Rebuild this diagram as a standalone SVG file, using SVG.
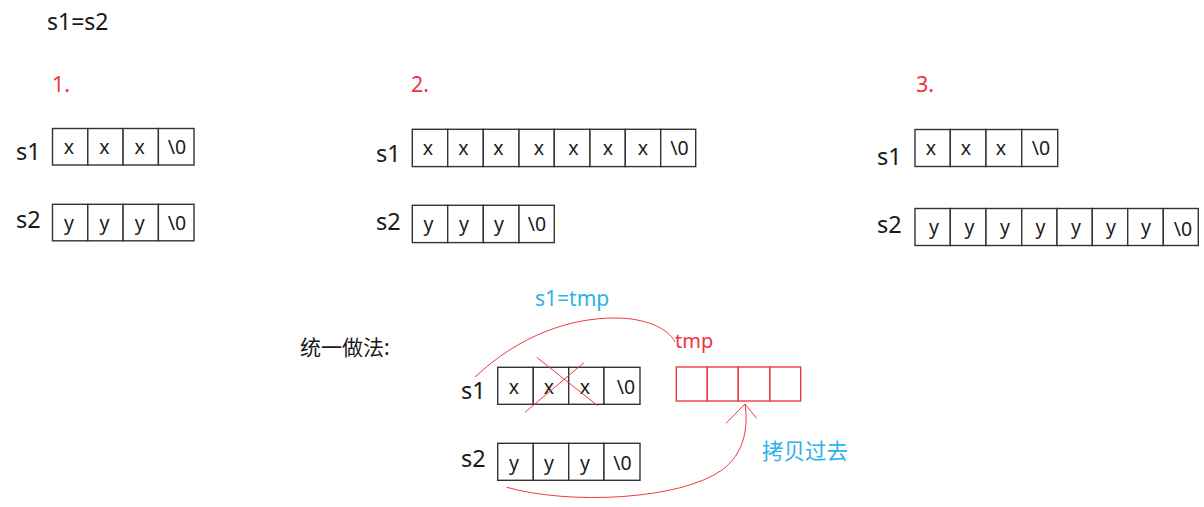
<svg xmlns="http://www.w3.org/2000/svg" width="1204" height="507" viewBox="0 0 1204 507">
<style>
.t{font-family:"Noto Sans","Noto Sans CJK SC",sans-serif;fill:#1a1a1a}
.lbl{font-size:23.5px}
.c{font-size:19.5px;text-anchor:middle}
.red{fill:#f0343f}
.blue{fill:#2db2ea}
.box{fill:#fff;stroke:#333;stroke-width:1.4}
.rbox{fill:none;stroke:#ee3a44;stroke-width:1.4}
.rl{fill:none;stroke:#ee3a44;stroke-width:1}
</style>
<rect width="1204" height="507" fill="#fff"/>
<text class="t" x="47" y="30" font-size="23">s1=s2</text>

<g id="panel1">
<text class="t red" x="52" y="92" font-size="21.5">1.</text>
<g id="p1s1">
<text class="t lbl" x="16" y="160">s1</text>
<rect class="box" x="52.5" y="128.5" width="35.3" height="36.5"/>
<rect class="box" x="87.8" y="128.5" width="35.3" height="36.5"/>
<rect class="box" x="123.1" y="128.5" width="35.3" height="36.5"/>
<rect class="box" x="158.4" y="128.5" width="35.6" height="36.5"/>
<text class="t c" x="69" y="154">x</text><text class="t c" x="104.4" y="154">x</text><text class="t c" x="139.7" y="154">x</text><text class="t c" x="177" y="154">\0</text>
</g>
<g id="p1s2">
<text class="t lbl" x="16" y="228">s2</text>
<rect class="box" x="52.5" y="204.3" width="35.3" height="36.5"/>
<rect class="box" x="87.8" y="204.3" width="35.3" height="36.5"/>
<rect class="box" x="123.1" y="204.3" width="35.3" height="36.5"/>
<rect class="box" x="158.4" y="204.3" width="35.6" height="36.5"/>
<text class="t c" x="69" y="230">y</text><text class="t c" x="104.4" y="230">y</text><text class="t c" x="139.7" y="230">y</text><text class="t c" x="177" y="230">\0</text>
</g>
</g>

<g id="panel2">
<text class="t red" x="411" y="92" font-size="21.5">2.</text>
<g id="p2s1">
<text class="t lbl" x="376" y="162">s1</text>
<rect class="box" x="412.3" y="129.3" width="35.4" height="37.3"/>
<rect class="box" x="447.7" y="129.3" width="35.6" height="37.3"/>
<rect class="box" x="483.3" y="129.3" width="35.7" height="37.3"/>
<rect class="box" x="519" y="129.3" width="35.3" height="37.3"/>
<rect class="box" x="554.3" y="129.3" width="35.7" height="37.3"/>
<rect class="box" x="590" y="129.3" width="35.3" height="37.3"/>
<rect class="box" x="625.3" y="129.3" width="35.4" height="37.3"/>
<rect class="box" x="660.7" y="129.3" width="35" height="37.3"/>
<text class="t c" x="428" y="155">x</text><text class="t c" x="463.5" y="155">x</text><text class="t c" x="498.5" y="155">x</text><text class="t c" x="539" y="155">x</text><text class="t c" x="573.5" y="155">x</text><text class="t c" x="608" y="155">x</text><text class="t c" x="643" y="155">x</text><text class="t c" x="679.5" y="155">\0</text>
</g>
<g id="p2s2">
<text class="t lbl" x="376" y="230">s2</text>
<rect class="box" x="412.3" y="205.3" width="35.4" height="37.3"/>
<rect class="box" x="447.7" y="205.3" width="35.6" height="37.3"/>
<rect class="box" x="483.3" y="205.3" width="35.7" height="37.3"/>
<rect class="box" x="519" y="205.3" width="35.3" height="37.3"/>
<text class="t c" x="428.5" y="231">y</text><text class="t c" x="464" y="231">y</text><text class="t c" x="499" y="231">y</text><text class="t c" x="537" y="231">\0</text>
</g>
</g>

<g id="panel3">
<text class="t red" x="916" y="92" font-size="21.5">3.</text>
<g id="p3s1">
<text class="t lbl" x="877" y="165">s1</text>
<rect class="box" x="915" y="129.5" width="35.3" height="37"/>
<rect class="box" x="950.3" y="129.5" width="35.7" height="37"/>
<rect class="box" x="986" y="129.5" width="35.7" height="37"/>
<rect class="box" x="1021.7" y="129.5" width="36" height="37"/>
<text class="t c" x="931" y="155">x</text><text class="t c" x="966" y="155">x</text><text class="t c" x="1001" y="155">x</text><text class="t c" x="1041" y="155">\0</text>
</g>
<g id="p3s2">
<text class="t lbl" x="877" y="233">s2</text>
<rect class="box" x="915" y="208.5" width="35.3" height="37"/>
<rect class="box" x="950.3" y="208.5" width="35.7" height="37"/>
<rect class="box" x="986" y="208.5" width="35.7" height="37"/>
<rect class="box" x="1021.7" y="208.5" width="35.3" height="37"/>
<rect class="box" x="1057" y="208.5" width="35.3" height="37"/>
<rect class="box" x="1092.3" y="208.5" width="35.4" height="37"/>
<rect class="box" x="1127.7" y="208.5" width="35.6" height="37"/>
<rect class="box" x="1163.3" y="208.5" width="35" height="37"/>
<text class="t c" x="934" y="234">y</text><text class="t c" x="969.5" y="234">y</text><text class="t c" x="1005" y="234">y</text><text class="t c" x="1040.5" y="234">y</text><text class="t c" x="1076" y="234">y</text><text class="t c" x="1111" y="234">y</text><text class="t c" x="1146" y="234">y</text><text class="t c" x="1183" y="236">\0</text>
</g>
</g>

<g id="unified">
<text class="t" x="300" y="355" font-size="21">统一做法:</text>
<text class="t blue" x="535" y="306" font-size="21">s1=tmp</text>
<g id="u-s1">
<text class="t lbl" x="461" y="399">s1</text>
<rect class="box" x="497.7" y="367.3" width="35.6" height="37"/>
<rect class="box" x="533.3" y="367.3" width="35.4" height="37"/>
<rect class="box" x="568.7" y="367.3" width="35.3" height="37"/>
<rect class="box" x="604" y="367.3" width="36" height="37"/>
<text class="t c" x="514" y="394">x</text><text class="t c" x="549" y="394">x</text><text class="t c" x="585" y="394">x</text><text class="t c" x="626" y="394">\0</text>
</g>
<g id="u-s2">
<text class="t lbl" x="461" y="467">s2</text>
<rect class="box" x="497.7" y="443.3" width="35.6" height="37"/>
<rect class="box" x="533.3" y="443.3" width="35.4" height="37"/>
<rect class="box" x="568.7" y="443.3" width="35.3" height="37"/>
<rect class="box" x="604" y="443.3" width="36" height="37"/>
<text class="t c" x="514" y="470">y</text><text class="t c" x="549" y="470">y</text><text class="t c" x="585" y="470">y</text><text class="t c" x="622.5" y="470">\0</text>
</g>
<g id="tmp">
<text class="t red" x="675" y="348" font-size="20">tmp</text>
<rect class="rbox" x="676.3" y="367" width="31" height="34"/>
<rect class="rbox" x="707.3" y="367" width="31" height="34"/>
<rect class="rbox" x="738.3" y="367" width="31.4" height="34"/>
<rect class="rbox" x="769.7" y="367" width="31" height="34"/>
</g>
<text class="t blue" x="762" y="459" font-size="21.5">拷贝过去</text>
</g>

<g id="connectors">
<line class="rl" x1="536.7" y1="357.3" x2="597.7" y2="405.7"/>
<line class="rl" x1="584" y1="362.7" x2="525" y2="412.3"/>
<path class="rl" d="M475,377 C520,335 570,318 615,318 C645,318 668,328 675,342"/>
<path class="rl" d="M506.7,487.3 C570,505 680,500 722,470 C746,452 748,425 745,404"/>
<path class="rl" d="M726,423.3 L745,404 L756.7,418.3"/>
</g>
</svg>
